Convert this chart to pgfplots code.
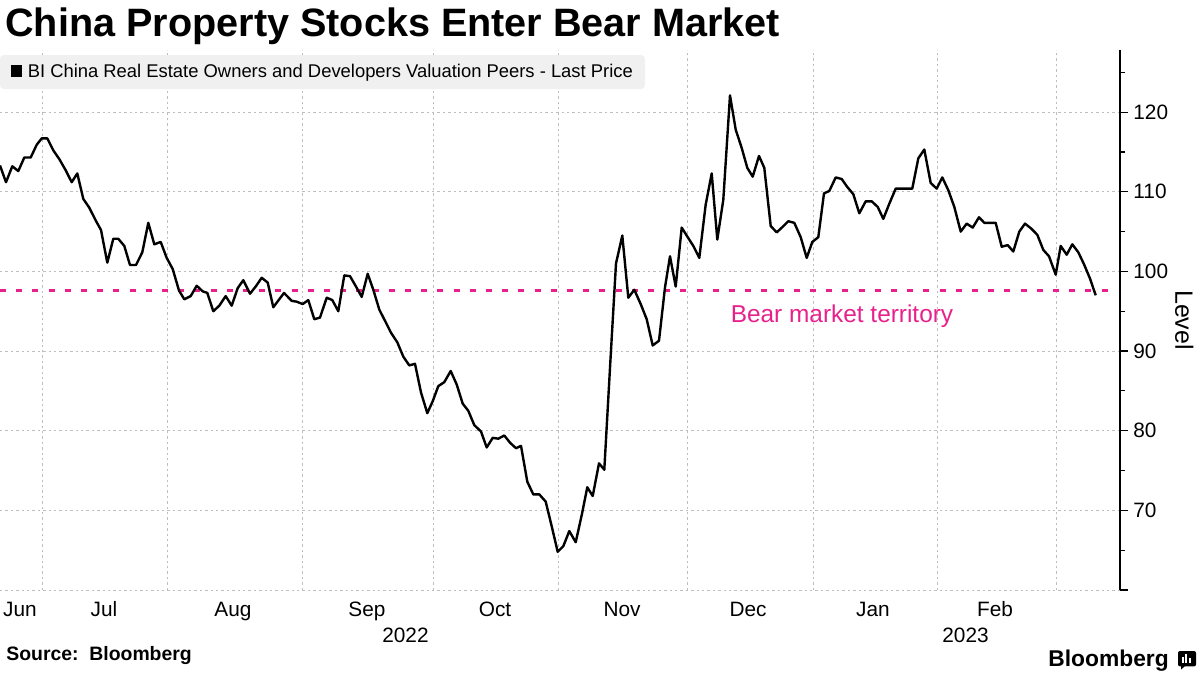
\documentclass[border=0pt]{standalone}
\usepackage{fontspec}
\setmainfont{Liberation Sans}
\usepackage{pgfplots}
\pgfplotsset{compat=1.18}
\definecolor{bearpink}{RGB}{232,32,140}
\definecolor{gridgray}{RGB}{190,190,190}
\definecolor{legbg}{RGB}{240,240,240}

\pgfplotstableread{
x y
0 113.3
6 111.2
12.3 113.2
18.3 112.6
24.3 114.3
30.7 114.3
36.7 115.9
41.7 116.7
47.3 116.7
53.3 115.2
59.3 114.1
65.7 112.7
71.7 111.2
77.3 112.3
83.3 109.1
89.3 108.0
95.7 106.4
101 105.2
107.3 101.1
113.3 104.1
118.3 104.1
124.3 103.2
130 100.8
136 100.8
142.3 102.4
148.3 106.1
154.3 103.4
160.7 103.7
166.7 101.7
172.7 100.3
179 97.6
184.3 96.5
190.7 96.9
196.7 98.2
202.7 97.5
207.3 97.3
213.3 95.0
219.3 95.7
225.7 96.9
231.7 95.7
237.7 97.9
243.3 98.9
250 97.2
255.7 98.1
261.7 99.2
267.7 98.6
273.3 95.5
284 97.3
291.7 96.3
296.7 96.2
302.7 95.9
308.3 96.4
314.3 94.0
320 94.2
326.7 96.7
332.3 96.4
338.3 95.0
344.3 99.5
350 99.4
356 98.1
361.7 96.8
367.7 99.7
373.3 97.7
379.3 95.2
385 93.8
391 92.3
397.3 91.1
403.3 89.3
409.3 88.2
415 88.4
421 84.8
427.3 82.2
432.7 83.7
438.3 85.6
444.3 86.1
450.7 87.5
456.7 85.8
462.7 83.4
468.3 82.5
474.3 80.7
481 79.9
486.7 77.9
492.7 79.1
498.3 79.0
504.3 79.4
510 78.5
516 77.8
521 78.1
527.3 73.6
533.3 72.0
539.3 72.0
545.7 71.1
551.7 68.0
557.7 64.8
563.3 65.5
569.3 67.4
575.7 66.0
581.7 69.4
587.3 72.9
592.7 71.8
599 75.9
604.3 75.1
610.5 89.0
616 101.0
622.3 104.5
628.3 96.7
634.3 97.7
640.7 95.9
646.7 94.0
652.7 90.7
659 91.3
665 98.0
670 101.9
675.7 98.1
681.7 105.5
687.7 104.3
693.3 103.2
699.3 101.7
705.7 108.4
711.7 112.3
717.3 104.0
723.3 109.0
730 122.1
735.7 117.8
741.7 115.5
747.3 113.0
752.7 111.9
759 114.5
764.3 113.0
770.7 105.7
776.7 104.9
782.7 105.6
788.3 106.3
794.3 106.1
800.7 104.3
806.7 101.7
812.3 103.7
818.3 104.3
824 109.8
829.3 110.1
835.7 111.8
841.7 111.6
847.3 110.6
853.3 109.7
859.3 107.3
865.7 108.8
871.7 108.8
877.7 108.1
883.3 106.6
889.3 108.5
895.7 110.4
901 110.4
906.7 110.4
912.3 110.4
918.3 114.2
924.3 115.3
930.7 111.1
936.7 110.4
942.3 111.8
948.3 110.2
954.3 108.1
960.7 105.0
966.7 106.0
972.7 105.5
979 106.8
984.3 106.1
990 106.1
995.7 106.1
1001.7 103.1
1007.7 103.3
1013.3 102.5
1019.3 105.0
1025 106.0
1031 105.4
1037.3 104.6
1043.3 102.7
1049 101.9
1055.7 99.6
1060.7 103.2
1066.7 102.1
1072.3 103.4
1078.3 102.4
1084 100.9
1090 99.1
1095.7 97.0
}\pricedata

\begin{document}
\begin{tikzpicture}
\path[use as bounding box] (0,0) rectangle (600pt,-337.5pt);
\begin{axis}[
  at={(0pt,-295pt)}, anchor=south west,
  scale only axis, width=560pt, height=270pt,
  xmin=0, xmax=1120, ymin=60, ymax=127.8,
  axis x line=bottom, axis y line=right,
  x axis line style={draw=none},
  y axis line style={-, line width=0.75pt, black},
  xtick={20,104,233,367,495,622,748,873,995},
  xticklabels={Jun,Jul,Aug,Sep,Oct,Nov,Dec,Jan,Feb},
  minor xtick={42,167,302,433,558,687,813,937,1056},
  x tick style={draw=none},
  xmajorgrids=false, xminorgrids=true, ymajorgrids=true, yminorgrids=false,
  ytick={60,70,80,90,100,110,120},
  yticklabels={,70,80,90,100,110,120},
  minor ytick={65,75,85,95,105,115,125},
  tick align=outside,
  major tick length=4pt, minor tick length=2.5pt,
  y tick style={black, line width=0.6pt},
  major grid style={gridgray, line width=0.5pt, dash pattern=on 1.2pt off 1.5pt},
  minor grid style={gridgray, line width=0.5pt, dash pattern=on 1.2pt off 1.5pt},
  ticklabel style={font=\fontsize{10.4}{12}\selectfont},
  /pgf/number format/assume math mode=true,
  yticklabel style={anchor=west, inner sep=0pt, xshift=2.5pt},
  xticklabel style={anchor=base, inner sep=0pt, yshift=-9pt},
  ylabel={Level},
  ylabel style={font=\fontsize{12.5}{15}\selectfont, rotate=180},
]
\addplot[bearpink, line width=1.5pt, dash pattern=on 3pt off 5.1pt] coordinates {(0,97.6) (1112,97.6)};
\addplot[black, line width=1.2pt, line join=round] table[x=x, y=y] {\pricedata};
\node[bearpink, anchor=base, inner sep=0pt, font=\fontsize{12.2}{14}\selectfont] at (axis cs:842,93.57) {Bear market territory};
\end{axis}
% legend box
\fill[legbg, rounded corners=2pt] (0pt,-27.5pt) rectangle (322.5pt,-44.5pt);
\fill[black] (5.5pt,-32.6pt) rectangle (10.8pt,-38.4pt);
\node[anchor=base west, inner sep=0pt, font=\fontsize{9.2}{11}\selectfont] at (13.7pt,-38.85pt) {BI China Real Estate Owners and Developers Valuation Peers - Last Price};
% title
\node[anchor=base west, inner sep=0pt, font=\bfseries\fontsize{19.8}{22}\selectfont] at (2.5pt,-18pt) {China Property Stocks Enter Bear Market};
% years
\node[anchor=base, inner sep=0pt, font=\fontsize{10.4}{12}\selectfont] at (202.75pt,-321.35pt) {2022};
\node[anchor=base, inner sep=0pt, font=\fontsize{10.4}{12}\selectfont] at (482.75pt,-321.35pt) {2023};
% source
\node[anchor=base west, inner sep=0pt, font=\bfseries\fontsize{9.7}{11}\selectfont] at (3pt,-330pt) {Source:\ \ Bloomberg};
% logo
\node[anchor=base west, inner sep=0pt, font=\bfseries\fontsize{11.4}{13}\selectfont] at (524pt,-333pt) {Bloomberg};
\fill[black, rounded corners=1pt] (589pt,-325.5pt) rectangle (598pt,-333.2pt);
\fill[black] (590.5pt,-333pt) -- (590.5pt,-334.8pt) -- (592.5pt,-333pt) -- cycle;
\fill[white] (590.8pt,-331.6pt) rectangle (591.8pt,-328.6pt);
\fill[white] (592.6pt,-331.6pt) rectangle (593.6pt,-327.2pt);
\fill[white] (594.4pt,-331.6pt) rectangle (595.4pt,-329.2pt);
\end{tikzpicture}
\end{document}
